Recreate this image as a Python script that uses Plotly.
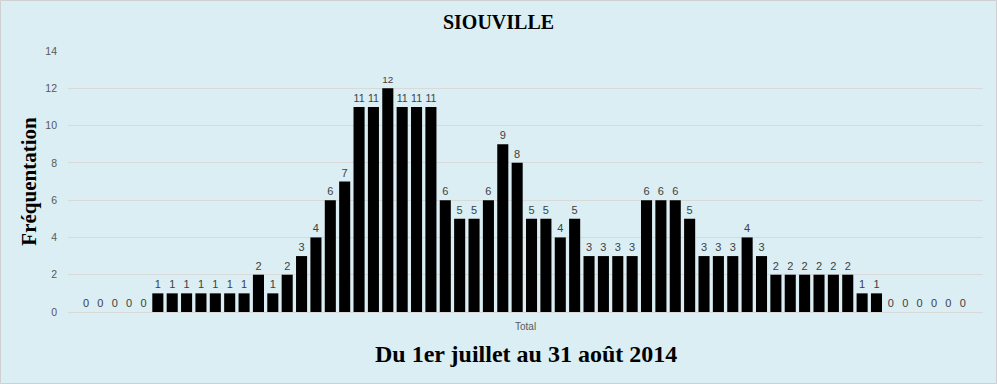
import plotly.graph_objects as go

days = list(range(62))
values = [0, 0, 0, 0, 0,
          1, 1, 1, 1, 1, 1, 1,
          2, 1, 2, 3, 4, 6, 7,
          11, 11, 12, 11, 11, 11,
          6, 5, 5, 6, 9, 8, 5, 5, 4, 5,
          3, 3, 3, 3,
          6, 6, 6, 5,
          3, 3, 3, 4, 3,
          2, 2, 2, 2, 2, 2,
          1, 1,
          0, 0, 0, 0, 0, 0]
y_ticks = [0, 2, 4, 6, 8, 10, 12, 14]

W, H = 997, 384
ml, mr, mt, mb = 68, 14, 51, 72
pw, ph = W - ml - mr, H - mt - mb

fig = go.Figure(go.Bar(
    x=days, y=values, width=0.77,
    marker=dict(color="black", line=dict(width=0)),
    text=[str(v) for v in values], textposition="outside",
    textfont=dict(family="Liberation Sans", size=11, color="#404040"),
    cliponaxis=False, hoverinfo="skip",
))

fig.update_layout(
    width=W, height=H,
    margin=dict(l=ml, r=mr, t=mt, b=mb, pad=0, autoexpand=False),
    paper_bgcolor="#DAEEF3", plot_bgcolor="#DAEEF3",
    showlegend=False, bargap=0.23,
    title=dict(text="<b>SIOUVILLE</b>", x=0.5, xanchor="center", y=1 - 22 / H, yanchor="middle",
               font=dict(family="Liberation Serif", size=20, color="black"), automargin=False),
    xaxis=dict(range=[-1.25, 62.41], showticklabels=False, showgrid=False, zeroline=False,
               showline=True, linecolor="#D9D9D9", linewidth=1, ticks="", automargin=False),
    yaxis=dict(range=[0, 14], tickvals=y_ticks, showgrid=True, gridcolor="#D9D9D9", gridwidth=1,
               zeroline=False, showline=False, ticks="", ticklabelstandoff=10, automargin=False,
               tickfont=dict(family="Liberation Sans", size=10.5, color="#595959"),
               title=dict(text="<b>Fréquentation</b>", standoff=2,
                          font=dict(family="Liberation Serif", size=21, color="black"))),
    annotations=[
        dict(text="Total", xref="paper", yref="paper", x=0.5, y=-14 / ph, xanchor="center",
             yanchor="middle", showarrow=False,
             font=dict(family="Liberation Sans", size=10, color="#595959")),
        dict(text="<b>Du 1er juillet au 31 août 2014</b>", xref="paper", yref="paper", x=0.5,
             y=-42 / ph, xanchor="center", yanchor="middle", showarrow=False,
             font=dict(family="Liberation Serif", size=24, color="black")),
    ],
    shapes=[dict(type="rect", xref="paper", yref="paper",
                 x0=-(ml - 0.5) / pw, x1=1 + (mr - 0.5) / pw,
                 y0=-(mb - 0.5) / ph, y1=1 + (mt - 0.5) / ph,
                 line=dict(color="#D0D0D0", width=1), layer="below")],
)

fig.write_html("out.html", config={"displayModeBar": False},
               post_script="document.body.style.margin='0';document.body.style.overflow='hidden';")
